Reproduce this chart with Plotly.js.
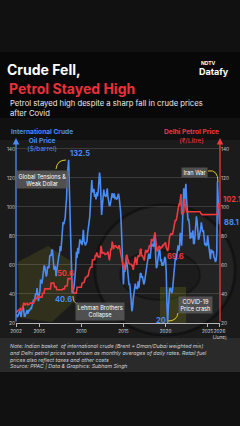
<!DOCTYPE html>
<html>
<head>
<meta charset="utf-8">
<script src="https://cdn.plot.ly/plotly-3.0.1.min.js"></script>
<style>
  html, body { margin: 0; padding: 0; background: #111111; }
  #chart { width: 240px; height: 426px; }
</style>
</head>
<body>
<div id="chart"></div>
<script>
// Monthly series, first month April 2002, last month June 2026
const firstYear = 2002;
const firstMonth = 4;

// Indian basket of international crude, $/barrel (monthly average)
const crudeUSD = [
  25.0, 25.4, 24.0, 25.0, 26.1, 27.9, 27.4, 24.2, 27.4,
  29.9, 31.5, 28.9, 24.3, 24.8, 26.7, 27.7, 28.9, 26.3, 28.6, 28.4, 29.1,
  30.3, 30.1, 32.3, 32.2, 36.3, 34.5, 36.5, 40.4, 39.6, 44.0, 38.5, 35.1,
  39.8, 41.8, 49.5, 49.4, 47.1, 53.5, 54.9, 59.6, 58.9, 55.2, 52.1, 53.6,
  59.0, 57.8, 58.5, 66.1, 66.7, 66.2, 70.6, 70.1, 60.2, 57.3, 56.8, 59.4,
  52.2, 56.2, 59.9, 65.5, 66.0, 68.1, 73.0, 69.6, 75.3, 81.1, 89.6, 88.0,
  89.5, 92.4, 99.8, 105.8, 120.9, 129.7, 132.5, 113.1, 97.0, 69.1, 50.9, 40.6,
  44.0, 43.2, 46.0, 50.1, 58.0, 69.1, 64.8, 71.9, 67.7, 73.1, 77.6, 75.0,
  76.6, 73.7, 78.0, 84.2, 76.1, 74.3, 73.5, 75.1, 76.1, 81.6, 84.8, 89.8,
  93.0, 101.4, 110.7, 118.5, 110.7, 110.1, 112.5, 106.9, 108.8, 105.2, 110.0, 107.2,
  110.5, 117.8, 123.6, 118.8, 108.7, 94.5, 100.8, 111.1, 111.9, 108.5, 107.4, 106.9,
  109.5, 112.7, 106.5, 101.6, 101.0, 101.1, 104.6, 108.2, 109.5, 106.9, 106.7, 109.3,
  105.9, 106.2, 105.4, 105.6, 106.9, 109.1, 106.3, 101.9, 96.9, 86.8, 77.6, 61.2,
  46.6, 56.4, 55.2, 58.0, 63.8, 61.8, 56.2, 47.5, 46.1, 47.2, 42.6, 36.0,
  28.1, 30.5, 36.4, 39.7, 45.5, 47.1, 43.8, 44.3, 43.4, 48.7, 44.3, 52.7,
  54.0, 54.4, 51.0, 52.5, 50.0, 46.6, 47.9, 51.4, 54.5, 56.2, 61.1, 62.2,
  67.9, 64.7, 64.7, 69.3, 75.3, 73.8, 73.5, 72.5, 77.9, 80.1, 65.4, 57.8,
  59.3, 64.5, 66.7, 71.0, 69.9, 62.4, 64.0, 59.4, 61.7, 59.6, 62.4, 65.5,
  64.3, 54.8, 33.4, 20, 30.6, 40.6, 43.4, 44.2, 41.4, 40.7, 43.4, 50.0,
  54.8, 61.2, 64.7, 63.4, 66.9, 71.9, 73.5, 69.8, 73.1, 82.1, 80.6, 73.3,
  84.7, 94.1, 112.9, 103.0, 109.5, 116.0, 105.5, 97.4, 90.7, 91.7, 87.6, 78.1,
  80.9, 82.3, 78.5, 83.8, 74.9, 74.9, 80.4, 86.4, 93.5, 90.1, 83.5, 77.4,
  79.2, 81.6, 84.5, 89.4, 83.6, 82.6, 84.1, 78.3, 73.7, 75.1, 73.0, 73.8,
  80.2, 75.4, 72.5, 67.7, 64.0, 70.2, 70.0, 68.3, 69.5, 65.3, 64.5, 62.2,
  63.0, 68.5, 117.5, 105.0, 96.0, 88.1
];

// Delhi retail petrol price, Rs/litre (monthly average)
const petrolINR = [
  26.9, 28.1, 28.4, 28.4, 28.9, 29.4, 29.9, 28.9, 28.9,
  30.2, 32.5, 33.5, 33.5, 32.5, 33.0, 33.5, 33.5, 32.5, 32.5, 33.0, 33.7,
  33.7, 33.7, 33.7, 33.7, 33.7, 35.7, 35.7, 36.8, 36.8, 37.8, 39.0, 37.8,
  37.8, 37.8, 37.8, 37.8, 37.8, 40.5, 40.5, 40.5, 43.5, 43.5, 43.5, 43.5,
  43.5, 43.5, 43.5, 43.5, 43.5, 47.5, 47.5, 47.5, 47.5, 47.5, 44.9, 44.9,
  44.9, 42.9, 42.9, 42.9, 42.9, 42.9, 42.9, 42.9, 42.9, 42.9, 43.5, 43.5,
  43.5, 45.5, 45.5, 45.5, 45.5, 50.6, 50.6, 50.6, 50.6, 50.6, 50.6, 45.6,
  40.6, 40.6, 40.6, 40.6, 40.6, 40.6, 44.6, 44.6, 44.6, 44.6, 44.6, 44.7,
  44.7, 47.4, 47.9, 47.9, 47.9, 51.4, 51.4, 51.6, 51.8, 52.6, 52.6, 55.9,
  58.4, 58.4, 58.4, 58.4, 63.4, 63.4, 63.7, 63.7, 66.8, 66.4, 68.6, 65.6,
  65.6, 65.6, 65.6, 65.6, 73.2, 70.2, 67.8, 68.5, 68.5, 68.2, 67.2, 67.3,
  67.6, 68.3, 69.1, 66.1, 63.1, 66.4, 71.3, 70.3, 76.1, 74.0, 71.0, 72.9,
  73.2, 73.2, 72.3, 72.3, 71.4, 72.0, 73.6, 70.3, 68.5, 64.2, 63.3, 61.3,
  58.9, 56.5, 60.5, 60.5, 66.3, 66.6, 64.5, 61.2, 61.2, 60.7, 60.5, 60.5,
  59.4, 59.6, 56.6, 61.1, 63.0, 65.6, 62.5, 60.1, 64.6, 66.5, 65.9, 66.1,
  70.6, 71.1, 66.3, 66.3, 65.3, 64.3, 63.1, 68.6, 70.4, 68.3, 69.6, 69.3,
  71.3, 73.1, 72.9, 74.0, 77.8, 76.5, 76.3, 78.0, 81.3, 82.5, 77.6, 70.6,
  69.2, 70.9, 72.3, 73.1, 72.1, 70.8, 72.6, 72.0, 73.5, 73.3, 74.3, 74.8,
  75.5, 72.1, 70.3, 69.6, 71.2, 78.0, 80.4, 80.7, 81.8, 81.1, 81.4, 83.4,
  85.2, 88.8, 91.0, 90.5, 92.6, 96.7, 101.4, 101.6, 101.3, 106.5, 108.8, 95.4,
  95.4, 95.4, 96.2, 105.4, 102.0, 96.7, 96.7, 96.7, 96.7, 96.7, 96.7, 96.7,
  96.7, 96.7, 96.7, 96.7, 96.7, 96.7, 96.7, 96.7, 96.7, 96.7, 96.7, 96.7,
  96.7, 96.7, 95.8, 94.7, 94.7, 94.7, 94.7, 94.7, 94.7, 94.8, 94.8, 94.8,
  94.8, 94.8, 94.8, 94.8, 94.8, 94.8, 94.8, 94.8, 94.8, 94.8, 94.8, 94.8,
  94.8, 94.8, 96.5, 100.4, 102.1, 102.1
];

// Axis ticks
const yTicks = [20, 40, 60, 80, 100, 120, 140];
const xTickVals = ['2002-04-01', '2005-01-01', '2010-01-01', '2015-01-01', '2020-01-01', '2025-01-01', '2026-06-01'];
const xTickText = ['2002', '2005', '2010', '2015', '2020', '2025', '2026<br>(June)'];

// Months whose values are called out on the chart
const crudePeak = '2008-07', crudeLehman = '2008-12', covidLow = '2020-04', petrolPeak2008 = '2008-06';

function monthKey(i) {
  const m = firstMonth - 1 + i;
  const y = firstYear + Math.floor(m / 12);
  const mm = (m % 12) + 1;
  return y + '-' + (mm < 10 ? '0' + mm : mm);
}
const months = crudeUSD.map((_, i) => monthKey(i) + '-01');
const idx = key => months.indexOf(key + '-01');
const lastIdx = months.length - 1;

const BLUE = '#4a8cf6';
const RED = '#ec3a40';
const TITLE_RED = '#e8313a';
const YELLOW = '#d9c92c';
const FONT = 'Inter, "Open Sans", sans-serif';

// plot box in pixels
const L = 16, R = 220, T = 138, B = 323;
const X = px => (px - L) / (R - L);
const Y = py => (B - py) / (B - T);
const P = (x, y) => X(x).toFixed(4) + ',' + Y(y).toFixed(4);

const traces = [
  { x: months, y: petrolINR, type: 'scatter', mode: 'lines', yaxis: 'y2',
    line: { color: RED, width: 1.6 }, hoverinfo: 'skip' },
  { x: months, y: crudeUSD, type: 'scatter', mode: 'lines', yaxis: 'y',
    line: { color: BLUE, width: 1.6 }, hoverinfo: 'skip' }
];

function valueLabel(key, series, color, dx, dy, anchor) {
  const i = idx(key);
  return { xref: 'x', yref: 'y', x: months[i], y: series[i], text: '<b>' + String(series[i]) + '</b>',
    showarrow: false, xshift: dx, yshift: dy, xanchor: anchor || 'center', yanchor: 'middle',
    font: { family: FONT, size: 7.5, color: color } };
}
function box(cx, cy, text) {
  return { xref: 'paper', yref: 'paper', x: X(cx), y: Y(cy), text: text, showarrow: false,
    xanchor: 'center', yanchor: 'middle', align: 'center', bgcolor: 'rgba(88,88,88,0.88)',
    borderpad: 1.5, font: { family: FONT, size: 5.6, color: '#ffffff' } };
}
function note(x, y, text, size, color, opts) {
  return Object.assign({ xref: 'paper', yref: 'paper', x: X(x), y: Y(y), text: text, showarrow: false,
    xanchor: 'left', yanchor: 'top', align: 'left', font: { family: FONT, size: size, color: color } }, opts || {});
}

const annotations = [
  { xref: 'paper', yref: 'paper', x: X(7), y: Y(88), xanchor: 'left', yanchor: 'middle', showarrow: false,
    text: 'Petrol Stayed High', font: { family: FONT, size: 14, color: TITLE_RED, weight: 700 } },
  note(8, 97, 'Petrol stayed high despite a sharp fall in crude prices<br>after Covid', 7.7, '#e8e8e8'),
  note(199, 58, '<b>NDTV</b>', 5, '#ffffff'),
  note(197, 64, '<b>Datafy</b>', 9, '#ffffff'),
  // axis titles
  { xref: 'paper', yref: 'paper', x: X(42), y: Y(126), xanchor: 'center', yanchor: 'top', showarrow: false,
    align: 'center', text: '<b>International Crude<br>Oil Price</b><br>($/barrel)',
    font: { family: FONT, size: 6.6, color: BLUE } },
  { xref: 'paper', yref: 'paper', x: X(191), y: Y(126), xanchor: 'center', yanchor: 'top', showarrow: false,
    align: 'center', text: '<b>Delhi Petrol Price</b><br>(₹/Litre)',
    font: { family: FONT, size: 6.6, color: RED } },
  // axis lines with arrowheads
  { xref: 'paper', yref: 'paper', x: 0, y: 1, ax: 0, ay: B - T, axref: 'pixel', ayref: 'pixel', text: '',
    showarrow: true, arrowhead: 2, arrowsize: 1, arrowwidth: 1.3, arrowcolor: BLUE },
  { xref: 'paper', yref: 'paper', x: 1, y: 1, ax: 0, ay: B - T, axref: 'pixel', ayref: 'pixel', text: '',
    showarrow: true, arrowhead: 2, arrowsize: 1, arrowwidth: 1.3, arrowcolor: RED },
  // value call-outs
  valueLabel(crudePeak, crudeUSD, BLUE, 11, 6),
  valueLabel(crudeLehman, crudeUSD, BLUE, -9, -6),
  valueLabel(petrolPeak2008, petrolINR, RED, -2, 5),
  valueLabel(covidLow, petrolINR, RED, 8, -5),
  valueLabel(covidLow, crudeUSD, BLUE, -7, 3),
  { xref: 'x', yref: 'y', x: months[lastIdx], y: petrolINR[lastIdx], text: '<b>' + String(petrolINR[lastIdx]) + '</b>',
    showarrow: false, xanchor: 'left', yanchor: 'middle', xshift: 1, yshift: 4,
    font: { family: FONT, size: 7.5, color: RED } },
  { xref: 'x', yref: 'y', x: months[lastIdx], y: crudeUSD[lastIdx], text: '<b>' + String(crudeUSD[lastIdx]) + '</b>',
    showarrow: false, xanchor: 'left', yanchor: 'middle', xshift: 2, yshift: 2,
    font: { family: FONT, size: 7.5, color: BLUE } },
  // event boxes
  box(42, 179, 'Global Tensions &<br>Weak Dollar'),
  box(194, 172, 'Iran War'),
  box(100, 311, 'Lehman Brothers<br>Collapse'),
  box(195, 305, 'COVID-19<br>Price crash'),
  // footnote
  note(7, 341, '<i>Note: Indian basket  of international crude (Brent + Oman/Dubai weighted mix)<br>and Delhi petrol prices are shown as monthly averages of daily rates. Retail fuel<br>prices also reflect taxes and other costs<br>Source: PPAC | Data &amp; Graphics: Subham Singh</i>', 5.2, '#d4d4d4')
];

function pathShape(d, color, fill, layer) {
  return { type: 'path', xref: 'paper', yref: 'paper', path: d, layer: layer || 'below',
    line: { color: color, width: color ? 1 : 0 }, fillcolor: fill || 'rgba(0,0,0,0)' };
}
function rect(x0, y0, x1, y1, fill) {
  return { type: 'rect', xref: 'paper', yref: 'paper', x0: X(x0), x1: X(x1), y0: Y(y1), y1: Y(y0),
    line: { width: 0 }, fillcolor: fill, layer: 'below' };
}

const shapes = [
  // card and backdrop
  rect(0, 52, 240, 372, '#080808'),
  rect(0, 118, 240, 372, '#1b1b1b'),
  rect(0, 118, 240, 140, 'rgba(10,10,10,0.55)'),
  rect(0, 338, 240, 372, '#2a2a2a'),
  { type: 'circle', xref: 'paper', yref: 'paper', x0: X(95), x1: X(235), y0: Y(335), y1: Y(205),
    fillcolor: 'rgba(255,255,255,0.035)', line: { color: 'rgba(0,0,0,0.35)', width: 3 }, layer: 'below' },
  { type: 'circle', xref: 'paper', yref: 'paper', x0: X(120), x1: X(200), y0: Y(300), y1: Y(250),
    fillcolor: 'rgba(0,0,0,0.18)', line: { color: 'rgba(0,0,0,0.3)', width: 2 }, layer: 'below' },
  pathShape('M' + P(18, 262) + ' L' + P(48, 246) + ' L' + P(72, 262) + ' L' + P(76, 300) + ' L' + P(52, 322) + ' L' + P(20, 318) + ' Z',
    null, 'rgba(110,108,30,0.26)'),
  rect(160, 287, 186, 323, 'rgba(110,108,25,0.32)'),
  // yellow connectors
  pathShape('M' + P(56, 169) + ' Q' + P(57, 160) + ' ' + P(66, 160), YELLOW, null, 'above'),
  pathShape('M' + P(208, 171) + ' Q' + P(218, 169) + ' ' + P(218, 182), YELLOW, null, 'above'),
  pathShape('M' + P(73, 296) + ' Q' + P(73, 303) + ' ' + P(78, 304), YELLOW, null, 'above'),
  pathShape('M' + P(168, 321) + ' Q' + P(177, 321) + ' ' + P(178, 313), YELLOW, null, 'above')
];

const layout = {
  width: 240, height: 426,
  margin: { l: L, r: 240 - R, t: T, b: 426 - B, pad: 0 },
  paper_bgcolor: '#111111', plot_bgcolor: 'rgba(0,0,0,0)',
  showlegend: false,
  title: {
    text: 'Crude Fell,',
    x: 7 / 240, xanchor: 'left', xref: 'container',
    y: 1 - 70 / 426, yanchor: 'middle', yref: 'container',
    font: { family: FONT, size: 14, color: '#ffffff', weight: 700 }
  },
  xaxis: {
    type: 'date', range: ['2002-04-01', '2026-06-20'],
    tickvals: xTickVals, ticktext: xTickText, tickangle: 0,
    showgrid: false, zeroline: false,
    showline: true, linecolor: '#b5b5b5', linewidth: 1,
    ticks: 'outside', ticklen: 3, tickcolor: '#b5b5b5', tickwidth: 1,
    tickfont: { family: FONT, size: 4.7, color: '#dddddd' }
  },
  yaxis: {
    range: [20, 147.5], tickvals: yTicks, showgrid: true,
    gridcolor: 'rgba(255,255,255,0.2)', gridwidth: 0.7, zeroline: false, showline: false,
    ticks: '', tickfont: { family: FONT, size: 4.8, color: '#c8c8c8' }
  },
  yaxis2: {
    range: [20, 147.5], tickvals: yTicks, overlaying: 'y', side: 'right', showgrid: false,
    zeroline: false, showline: false, ticks: '',
    tickfont: { family: FONT, size: 4.8, color: '#c8c8c8' }
  },
  annotations: annotations,
  shapes: shapes
};

Plotly.newPlot('chart', traces, layout, { staticPlot: true, displayModeBar: false });
</script>
</body>
</html>
